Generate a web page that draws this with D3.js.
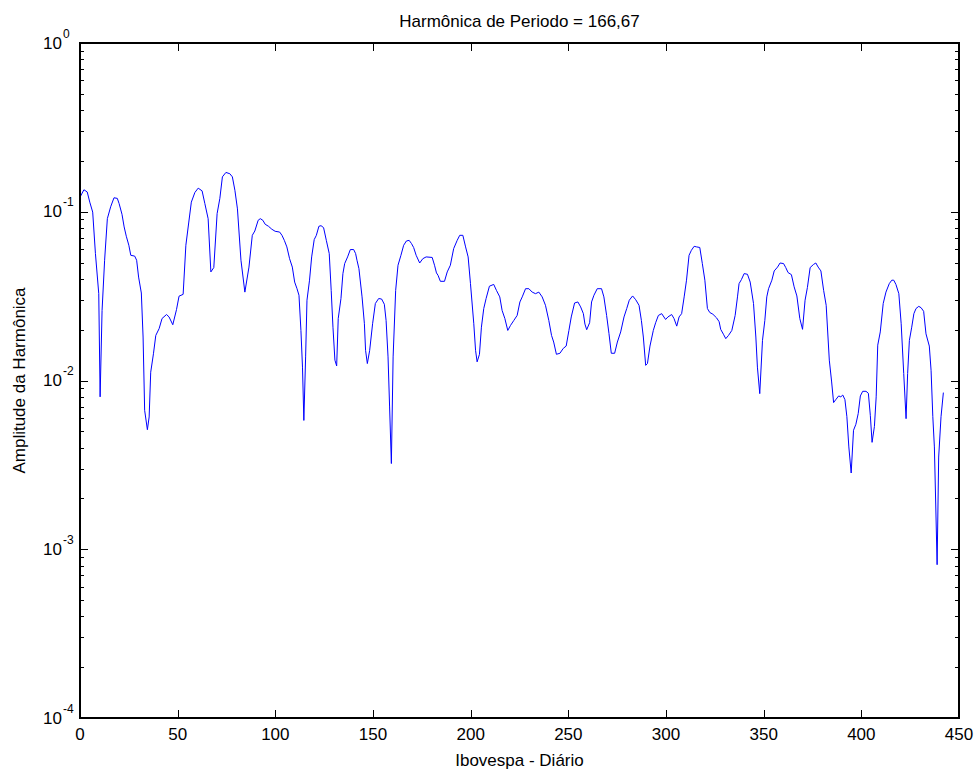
<!DOCTYPE html>
<html>
<head>
<meta charset="utf-8">
<script src="https://cdn.jsdelivr.net/npm/d3@7"></script>
<style>
  html, body { margin: 0; padding: 0; background: #fff; }
  svg { display: block; font-family: "Liberation Sans", Arial, Helvetica, sans-serif; }
</style>
</head>
<body>
<svg id="chart" width="980" height="772"></svg>
<script>
// ---- data ----
const titleText = "Harmônica de Periodo = 166,67";
const xLabelText = "Ibovespa - Diário";
const yLabelText = "Amplitude da Harmônica";

const xTicks = [0, 50, 100, 150, 200, 250, 300, 350, 400, 450];
const yDecades = [-4, -3, -2, -1, 0];

const harmonic = [
  0,2,3.7,5,6.5,7.9,9.6,10.3,11.3,12.6,
  14,15.7,17.4,19.1,20,21.5,22.6,23.7,25,26,
  28,29,30,31.4,32.3,33.1,34.5,35.4,36.2,37.6,
  38.8,40.5,42,44.3,45.6,47.5,49.4,50.7,52.8,54.2,
  55.7,57,58.8,60.5,62.5,63.9,65.6,67,68.5,70.2,
  71.6,72.9,74.7,76.7,78,79.3,80.6,82.4,84.4,86.5,
  88.2,89.5,91.2,92.3,93.6,94.8,96.5,98.2,99.9,102.2,
  103.4,104.6,105.9,107.3,108.7,109.9,111.1,112.1,113.1,113.9,
  114.6,115.5,116.2,117.5,118.6,119.9,121,122.3,123.4,124.7,
  126.1,127.6,128.6,129.5,130.5,131.4,132.2,133.6,134.6,135.5,
  137,138.4,140.1,141.1,141.8,142.8,144.4,145.6,146.2,147.1,
  148.3,149.8,151.2,152.9,154.4,155.8,156.7,157.7,158.5,159.4,
  160.3,161.6,162.8,164.3,165.7,167.1,168.5,169.7,170.8,172.1,
  173.9,175.5,177.2,180.3,181.5,182.5,183.3,184.5,186.6,188,
  189.6,191.3,193.1,194.4,196,197.4,198.7,199.9,201.6,202.5,
  203.3,204.5,205.5,206.7,207.9,209.6,211.8,213.2,214.9,216.1,
  217.5,219,220.4,222.1,223.8,225.2,226.4,228.1,229.8,231.5,
  233.2,234.9,236.6,238.3,240,241.4,242.5,243.9,245.7,247.4,
  248.9,250.3,251.5,253.2,254.9,256.3,257.7,258.5,259.4,260.9,
  261.9,263.1,264.8,267,268.2,269.6,270.8,272,273.7,275.1,
  276.8,278.5,279.9,281.2,282.9,284.5,286.2,287.4,288.4,289.6,
  290.5,291.8,293.5,294.7,296.1,297.8,299.8,301,302.9,304.1,
  305.5,306.7,308,309.3,310.5,311.8,313,314.4,315.7,317.3,
  318.6,319.9,321.2,322.4,324,325.9,327.2,328,329.4,330.6,
  332,333.7,335.4,336.6,337.4,338.6,340,341.7,343.1,344.8,
  346,346.8,348,349.4,350.6,351.6,352.5,354.2,355.4,357.1,
  358.4,360.2,361.3,362.5,364.2,365.6,367,368.5,369.9,371.2,
  372.4,373.8,375.5,376.7,377.9,379.3,380.7,382,383.6,384.8,
  385.8,387.1,388.4,389.5,390.5,391.6,392.6,393.6,394.8,396,
  397.2,398.4,399.5,400.7,402.4,403.6,404.6,405.5,406.7,407.6,
  408.4,409.7,411.2,412.6,414.3,415.6,416.6,417.7,419.2,420.4,
  421.7,422.9,423.7,424.6,425.8,426.9,428,429.4,430.6,431.9,
  433.1,434.8,435.7,436.6,437.4,438.8,439.6,440.8,442
];

const amplitude = [
  0.122,0.135,0.131,0.114,0.0995,0.0565,0.0327,0.0080,0.026,0.0516,
  0.091,0.107,0.121,0.120,0.112,0.0966,0.0813,0.0716,0.0633,0.0552,
  0.0546,0.0516,0.041,0.033,0.0181,0.00666,0.00511,0.00608,0.0112,0.0144,
  0.0185,0.0203,0.0233,0.0246,0.0238,0.0214,0.0263,0.0316,0.0324,0.0633,
  0.0869,0.114,0.130,0.138,0.133,0.112,0.091,0.044,0.0467,0.0975,
  0.12,0.161,0.171,0.168,0.161,0.134,0.104,0.0516,0.0334,0.047,
  0.0725,0.0769,0.089,0.091,0.089,0.0843,0.082,0.0788,0.0766,0.0758,
  0.0725,0.0677,0.0619,0.0527,0.047,0.0383,0.035,0.032,0.0198,0.012,
  0.0058,0.0138,0.0299,0.0393,0.054,0.0684,0.0725,0.082,0.0827,0.0805,
  0.0677,0.0565,0.0342,0.0207,0.0132,0.0122,0.0233,0.0306,0.043,0.0493,
  0.054,0.0597,0.0597,0.0565,0.0516,0.046,0.0313,0.0217,0.0151,0.0126,
  0.0151,0.0217,0.0286,0.0306,0.0304,0.0283,0.0227,0.0138,0.00697,0.00322,
  0.0138,0.0342,0.0482,0.0552,0.0633,0.0671,0.0677,0.0648,0.0614,0.0552,
  0.0497,0.0527,0.054,0.0536,0.0482,0.0434,0.042,0.0387,0.0387,0.044,
  0.0482,0.0605,0.0677,0.0725,0.0725,0.0619,0.054,0.0375,0.0217,0.0151,
  0.0129,0.0143,0.0207,0.0267,0.0306,0.0362,0.0371,0.0342,0.0313,0.026,
  0.0233,0.0198,0.0212,0.0227,0.0243,0.0292,0.0313,0.035,0.035,0.0334,
  0.0327,0.0334,0.0313,0.0279,0.0227,0.0185,0.0169,0.0143,0.0145,0.0155,
  0.016,0.0198,0.0238,0.0288,0.0292,0.0273,0.0249,0.0216,0.020,0.022,
  0.0292,0.032,0.035,0.035,0.0313,0.0243,0.019,0.0145,0.0145,0.0169,
  0.0194,0.0238,0.0267,0.0299,0.0317,0.0301,0.0279,0.0227,0.0181,0.0123,
  0.0126,0.016,0.0198,0.022,0.0243,0.0249,0.023,0.0238,0.0246,0.0233,
  0.021,0.0238,0.0249,0.0313,0.0393,0.0552,0.0591,0.0624,0.0619,0.0614,
  0.0493,0.0393,0.0267,0.0253,0.0247,0.0235,0.0223,0.0201,0.0188,0.0177,
  0.0185,0.0198,0.0243,0.0313,0.0375,0.0396,0.043,0.0426,0.0383,0.0286,
  0.0181,0.012,0.00836,0.0173,0.0227,0.0313,0.035,0.0393,0.0446,0.047,
  0.0497,0.0493,0.0467,0.0436,0.0424,0.0359,0.0317,0.0233,0.0201,0.0299,
  0.0356,0.0467,0.0487,0.0497,0.047,0.0446,0.0342,0.0279,0.0132,0.0098,
  0.0074,0.00775,0.0081,0.008,0.0082,0.0077,0.0061,0.00404,0.00283,0.00507,
  0.0055,0.00637,0.0081,0.00863,0.00863,0.0084,0.00622,0.0043,0.00534,0.008,
  0.0162,0.0194,0.0286,0.0334,0.0375,0.0393,0.0393,0.0371,0.0327,0.0217,
  0.011,0.00594,0.011,0.0173,0.0207,0.0249,0.0267,0.0275,0.027,0.0257,
  0.0189,0.016,0.0115,0.0061,0.00404,0.00081,0.00352,0.0061,0.00848
];

// ---- layout ----
const L = 80, R = 959, T = 43, B = 718;
const svg = d3.select("#chart");
svg.append("rect").attr("width", 980).attr("height", 772).attr("fill", "#fff");

const x = d3.scaleLinear().domain([0, 450]).range([L, R]);
const y = d3.scaleLog().domain([1e-4, 1]).range([B, T]);

const points = harmonic.map((h, i) => [h, amplitude[i]]);

// ---- line ----
const line = d3.line().x(d => x(d[0])).y(d => y(d[1]));
svg.append("path")
  .datum(points)
  .attr("fill", "none")
  .attr("stroke", "#0000ff")
  .attr("stroke-width", 1)
  .attr("stroke-linejoin", "round")
  .attr("d", line);

// ---- axes (MATLAB style box, inward ticks) ----
const MAJ = 8, MIN = 4;
const axisG = svg.append("g").attr("stroke", "#000").attr("stroke-width", 1)
  .attr("shape-rendering", "crispEdges").attr("fill", "none");

// bottom axis via d3.axisBottom with inward ticks
const xAxisB = d3.axisBottom(x).tickValues(xTicks).tickSize(-MAJ).tickFormat("");
const xAxisT = d3.axisTop(x).tickValues(xTicks).tickSize(-MAJ).tickFormat("");
const gB = svg.append("g").attr("transform", `translate(0,${B})`).call(xAxisB);
const gT = svg.append("g").attr("transform", `translate(0,${T})`).call(xAxisT);

// y minor + major ticks
const yMajor = yDecades.map(d => Math.pow(10, d));
const yMinor = [];
yDecades.slice(0, -1).forEach(d => { for (let k = 2; k <= 9; k++) yMinor.push(k * Math.pow(10, d)); });

const yAxisLMaj = d3.axisLeft(y).tickValues(yMajor).tickSize(-MAJ).tickFormat("");
const yAxisLMin = d3.axisLeft(y).tickValues(yMinor).tickSize(-MIN).tickFormat("");
const yAxisRMaj = d3.axisRight(y).tickValues(yMajor).tickSize(-MAJ).tickFormat("");
const yAxisRMin = d3.axisRight(y).tickValues(yMinor).tickSize(-MIN).tickFormat("");
svg.append("g").attr("transform", `translate(${L},0)`).call(yAxisLMaj);
svg.append("g").attr("transform", `translate(${L},0)`).call(yAxisLMin);
svg.append("g").attr("transform", `translate(${R},0)`).call(yAxisRMaj);
svg.append("g").attr("transform", `translate(${R},0)`).call(yAxisRMin);

svg.selectAll(".domain").remove();
svg.selectAll(".tick line").attr("stroke", "#000").attr("shape-rendering", "crispEdges");

// frame
svg.append("rect")
  .attr("x", L).attr("y", T).attr("width", R - L).attr("height", B - T)
  .attr("fill", "none").attr("stroke", "#000").attr("stroke-width", 1.2)
  .attr("shape-rendering", "crispEdges");

// ---- tick labels ----
const FS = 17;
svg.append("g").selectAll("text").data(xTicks).join("text")
  .attr("x", d => x(d)).attr("y", B + 22)
  .attr("text-anchor", "middle").attr("font-size", FS).attr("fill", "#000")
  .text(d => d);

const yl = svg.append("g").selectAll("g").data(yDecades).join("g");
yl.append("text")
  .attr("x", L - 18).attr("y", d => y(Math.pow(10, d)) + 5.5)
  .attr("text-anchor", "end").attr("font-size", FS).attr("fill", "#000")
  .text("10");
yl.append("text")
  .attr("x", L - 17).attr("y", d => y(Math.pow(10, d)) - 5.5)
  .attr("text-anchor", "start").attr("font-size", 12).attr("fill", "#000")
  .text(d => d === 0 ? "0" : String(d));

// ---- titles ----
svg.append("text")
  .attr("x", (L + R) / 2).attr("y", 27)
  .attr("text-anchor", "middle").attr("font-size", FS).attr("fill", "#000")
  .text(titleText);
svg.append("text")
  .attr("x", (L + R) / 2).attr("y", 766)
  .attr("text-anchor", "middle").attr("font-size", FS).attr("fill", "#000")
  .text(xLabelText);
svg.append("text")
  .attr("transform", `translate(25,${(T + B) / 2}) rotate(-90)`)
  .attr("text-anchor", "middle").attr("font-size", FS).attr("fill", "#000")
  .text(yLabelText);
</script>
</body>
</html>
